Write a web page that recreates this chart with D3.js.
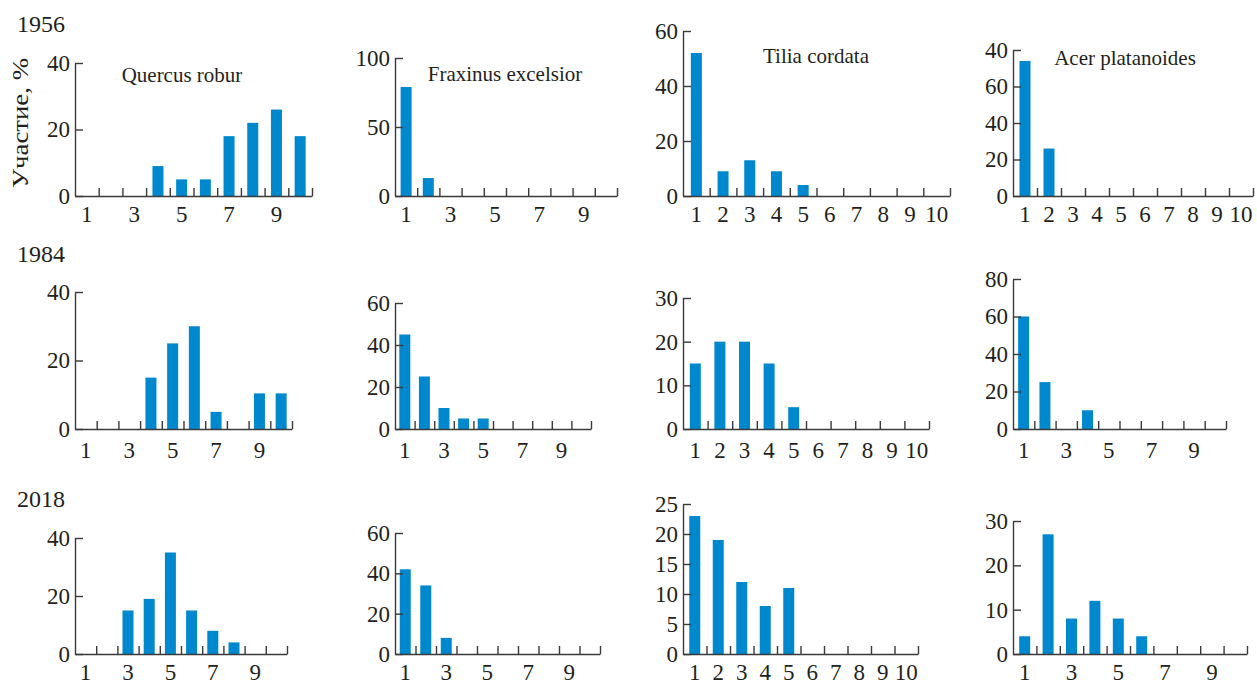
<!DOCTYPE html>
<html lang="ru">
<head>
	<meta charset="UTF-8"/>
	<title>Участие по классам</title>
	<script src="https://d3js.org/d3.v7.min.js"></script>
	<style>
		body { margin: 0; background: #fff; }
		text { font-family: "Liberation Serif", "Times New Roman", serif; fill: #231f20; }
	</style>
</head>
<body>
	<div id="chart"></div>

	<script>
	// data
	var years = ["1956", "1984", "2018"];
	var species = ["Quercus robur", "Fraxinus excelsior", "Tilia cordata", "Acer platanoides"];
	var classes = [1, 2, 3, 4, 5, 6, 7, 8, 9, 10];
	var yTitle = "Участие, %";

	var quercus = [
		[0, 0, 0, 9, 5, 5, 18, 22, 26, 18],
		[0, 0, 0, 15, 25, 30, 5, 0, 10.4, 10.4],
		[0, 0, 15, 19, 35, 15, 8, 4, 0, 0]
	];
	var fraxinus = [
		[79, 13, 0, 0, 0, 0, 0, 0, 0, 0],
		[45, 25, 10, 5, 5, 0, 0, 0, 0, 0],
		[42, 34, 8, 0, 0, 0, 0, 0, 0, 0]
	];
	var tilia = [
		[52, 9, 13, 9, 4, 0, 0, 0, 0, 0],
		[15, 20, 20, 15, 5, 0, 0, 0, 0, 0],
		[23, 19, 12, 8, 11, 0, 0, 0, 0, 0]
	];
	var acer = [
		[74, 26, 0, 0, 0, 0, 0, 0, 0, 0],
		[60, 25, 0, 10, 0, 0, 0, 0, 0, 0],
		[4, 27, 8, 12, 8, 4, 0, 0, 0, 0]
	];

	// y ticks per panel (row = year)
	var quercusTicks = [[0, 20, 40], [0, 20, 40], [0, 20, 40]];
	var fraxinusTicks = [[0, 50, 100], [0, 20, 40, 60], [0, 20, 40, 60]];
	var tiliaTicks = [[0, 20, 40, 60], [0, 10, 20, 30], [0, 5, 10, 15, 20, 25]];
	var acerTicks = [[0, 20, 40, 60, 80], [0, 20, 40, 60, 80], [0, 10, 20, 30]];
	// the top label of Acer 1956 is printed as "40" in the original
	var acer1956TickLabels = ["0", "20", "40", "60", "40"];

	var oddLabels = [1, 3, 5, 7, 9];
	var allLabels = classes;

	var seriesBySpecies = [quercus, fraxinus, tilia, acer];
	var ticksBySpecies = [quercusTicks, fraxinusTicks, tiliaTicks, acerTicks];
	var xLabelsBySpecies = [
		[oddLabels, oddLabels, oddLabels],
		[oddLabels, oddLabels, oddLabels],
		[allLabels, allLabels, allLabels],
		[allLabels, oddLabels, oddLabels]
	];

	// layout
	var w = 1257, h = 686;
	var colX0 = [75, 395, 683, 1013];
	var rowX1 = [
		[312, 617, 950, 1253],
		[292, 591, 929, 1226],
		[287, 600, 918, 1247]
	];
	var rowZero = [196, 429, 654];
	var rowTop = [
		[63, 58, 31, 50],
		[292, 303, 298, 279],
		[538, 533, 504, 521]
	];
	var rowLabelPad = [10, 13, 10];
	var yearY = [32, 262, 507];
	var speciesPos = [[182, 82], [505, 81], [816, 63], [1125, 65]];

	var barColor = "#0088cf";
	var axisColor = "#3a3a3a";
	var barWidth = 11;

	var svg = d3.select("#chart")
		.append("svg")
		.attr("width", w)
		.attr("height", h);

	function styleAxis(g) {
		g.selectAll("path, line")
			.attr("stroke", axisColor)
			.attr("stroke-width", 1.4);
		g.selectAll("text")
			.attr("font-family", "Liberation Serif, serif")
			.attr("font-size", "23px")
			.attr("fill", "#231f20");
	}

	for (var r = 0; r < 3; r++) {
		for (var c = 0; c < 4; c++) {
			var values = seriesBySpecies[c][r];
			var ticks = ticksBySpecies[c][r];
			var x0 = colX0[c], x1 = rowX1[r][c];
			var y0 = rowZero[r], yT = rowTop[r][c];

			var xBand = d3.scaleBand()
				.domain(classes)
				.range([x0, x1]);

			var xEdge = d3.scaleLinear()
				.domain([0, classes.length])
				.range([x0, x1]);

			var yScale = d3.scaleLinear()
				.domain([0, d3.max(ticks)])
				.range([y0, yT]);

			var panel = svg.append("g");

			// bars
			panel.selectAll("rect")
				.data(values)
				.enter()
				.append("rect")
				.attr("x", function (d, i) {
					return xBand(classes[i]) + xBand.bandwidth() / 2 - barWidth / 2;
				})
				.attr("y", function (d) { return yScale(d); })
				.attr("width", barWidth)
				.attr("height", function (d) { return y0 - yScale(d); })
				.attr("fill", barColor);

			// x axis: boundary ticks pointing up
			var xAxisG = panel.append("g")
				.attr("transform", "translate(0," + y0 + ")")
				.call(d3.axisBottom(xEdge)
					.tickValues(d3.range(1, classes.length + 1))
					.tickSizeInner(-8)
					.tickSizeOuter(0)
					.tickFormat(""));
			styleAxis(xAxisG);

			// x labels at bin centres
			var shown = xLabelsBySpecies[c][r];
			var xLabG = panel.append("g")
				.attr("transform", "translate(0," + y0 + ")")
				.call(d3.axisBottom(xBand)
					.tickSize(0)
					.tickPadding(rowLabelPad[r])
					.tickFormat(function (d) {
						return shown.indexOf(d) >= 0 ? d : "";
					}));
			xLabG.select(".domain").remove();
			styleAxis(xLabG);

			// y axis: ticks pointing right
			var yAxis = d3.axisLeft(yScale)
				.tickValues(ticks)
				.tickSizeInner(-8)
				.tickSizeOuter(0)
				.tickPadding(5);
			if (r === 0 && c === 3) {
				yAxis.tickFormat(function (d, i) { return acer1956TickLabels[i]; });
			}
			var yAxisG = panel.append("g")
				.attr("transform", "translate(" + x0 + ",0)")
				.call(yAxis);
			styleAxis(yAxisG);

			if (r === 0) {
				panel.append("text")
					.attr("x", speciesPos[c][0])
					.attr("y", speciesPos[c][1])
					.attr("text-anchor", "middle")
					.attr("font-size", "21px")
					.text(species[c]);
			}
		}

		svg.append("text")
			.attr("x", 17)
			.attr("y", yearY[r])
			.attr("font-size", "24px")
			.text(years[r]);
	}

	// y title
	svg.append("text")
		.attr("transform", "translate(28,123) rotate(-90)")
		.attr("text-anchor", "middle")
		.attr("font-size", "24px")
		.attr("textLength", 130)
		.attr("lengthAdjust", "spacingAndGlyphs")
		.text(yTitle);
	</script>
</body>
</html>
